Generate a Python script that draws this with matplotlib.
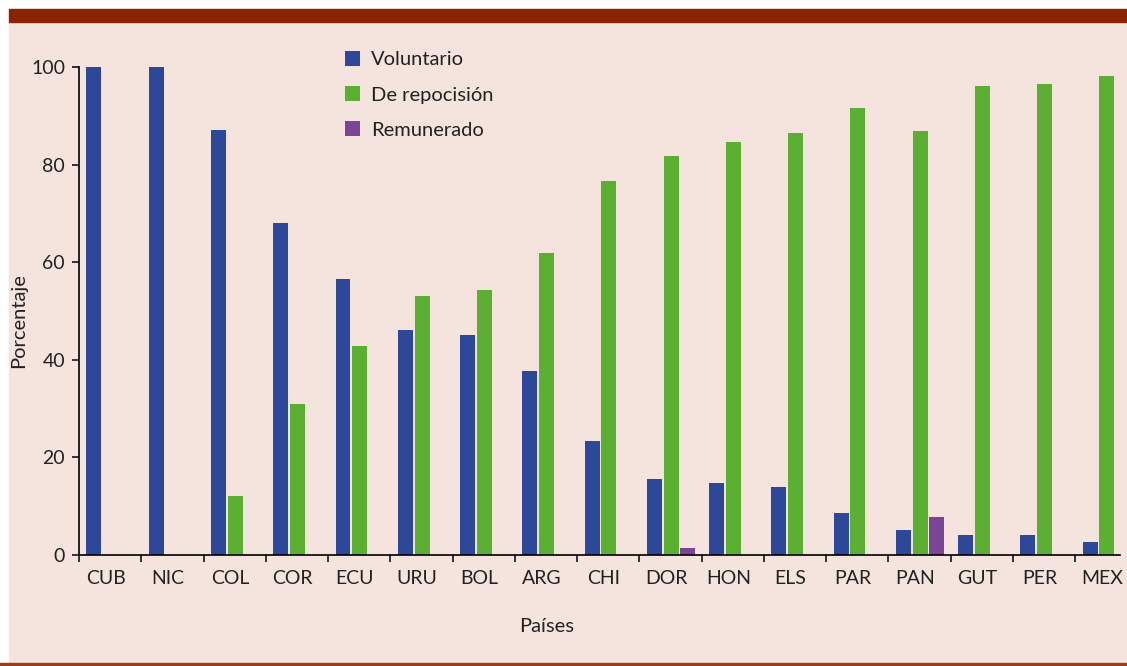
import numpy as np
import matplotlib
matplotlib.use('Agg')
import matplotlib.pyplot as plt
from matplotlib.patches import Rectangle

plt.rcParams['font.family'] = ['Lato', 'DejaVu Sans']

# datos
paises = ['CUB', 'NIC', 'COL', 'COR', 'ECU', 'URU', 'BOL', 'ARG', 'CHI',
          'DOR', 'HON', 'ELS', 'PAR', 'PAN', 'GUT', 'PER', 'MEX']
voluntario = [100, 100, 87, 68, 56.5, 46.2, 45, 37.8, 23.3,
              15.5, 14.7, 14, 8.6, 5.2, 4.2, 4.1, 2.7]
reposicion = [0, 0, 12, 31, 42.8, 53.1, 54.4, 61.8, 76.7,
              81.7, 84.7, 86.4, 91.6, 86.9, 96.2, 96.6, 98.2]
remunerado = [0, 0, 0, 0, 0, 0, 0, 0, 0,
              1.4, 0, 0, 0, 7.7, 0, 0, 0]
series = ['Voluntario', 'De repocisión', 'Remunerado']

azul = '#2d4898'
verde = '#5bb031'
morado = '#7b4597'
fondo = '#f4e4dd'
rojo = '#8a2300'

W, H = 1127, 666
fig = plt.figure(figsize=(W / 100, H / 100), dpi=100, facecolor='white')

# fondo y bandas del recuadro
fig.patches.append(Rectangle((9 / W, 3 / H), 1 - 9 / W, 641 / H,
                             transform=fig.transFigure, color=fondo, zorder=-10))
fig.patches.append(Rectangle((9 / W, 644 / H), 1 - 9 / W, 13 / H,
                             transform=fig.transFigure, color=rojo, zorder=-10))
fig.patches.append(Rectangle((0, 0), 1, 3 / H,
                             transform=fig.transFigure, color='#a33a12', zorder=-10))

ax = fig.add_axes([79 / W, (H - 555) / H, (1120 - 79) / W, (555 - 67) / H])
ax.set_facecolor('none')

x = np.arange(len(paises))
w = 0.24
h1 = ax.bar(x + 0.24, voluntario, w, color=azul, label=series[0])
h2 = ax.bar(x + 0.51, reposicion, w, color=verde, label=series[1])
h3 = ax.bar(x + 0.78, remunerado, w, color=morado, label=series[2])

ax.set_xlim(0, 16.72)
ax.set_ylim(0, 100)
ax.set_yticks([0, 20, 40, 60, 80, 100])
ax.set_xticks(np.arange(len(paises)))
ax.set_xticklabels([])
ax.set_xticks(x + 0.43, minor=True)
ax.set_xticklabels(paises, minor=True, fontsize=14, color='#222222')
ax.tick_params(axis='x', which='minor', length=0, pad=11)
ax.tick_params(axis='both', which='major', direction='out', length=5,
               width=1.1, labelsize=14, labelcolor='#222222')
ax.tick_params(axis='y', pad=5)

for s in ['top', 'right']:
    ax.spines[s].set_visible(False)
for s in ['left', 'bottom']:
    ax.spines[s].set_linewidth(1.2)

fig.text(19 / W, 1 - 321 / H, 'Porcentaje', rotation=90, ha='center',
         va='center', fontsize=14.5, color='#222222')
fig.text(547 / W, 1 - 627 / H, 'Países', ha='center', va='center',
         fontsize=14.5, color='#222222')

fig.legend(handles=[h1, h2, h3], labels=series, loc='upper left',
           bbox_to_anchor=(345 / W, 1 - 51 / H), frameon=False, fontsize=14.5,
           handlelength=0.75, handleheight=0.75, handletextpad=0.55,
           labelspacing=0.88, borderpad=0, borderaxespad=0,
           labelcolor='#222222')

fig.savefig('out.png', dpi=100, facecolor='white')
